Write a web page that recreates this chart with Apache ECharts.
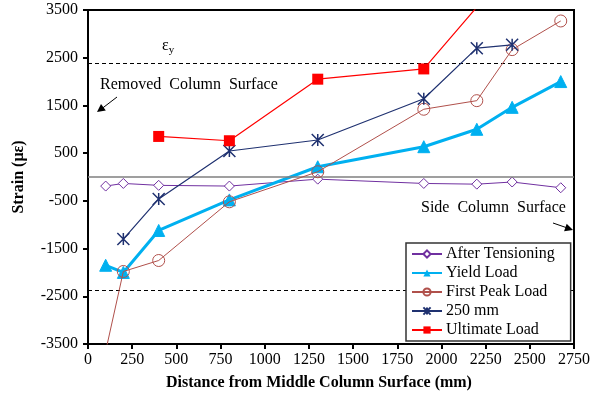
<!DOCTYPE html>
<html>
<head>
<meta charset="utf-8" />
<title>Strain distribution</title>
<style>
  html, body { margin: 0; padding: 0; background: #fff; }
  #chart { width: 595px; height: 403px; }
</style>
</head>
<body>
<div id="chart"></div>
<script src="https://cdn.jsdelivr.net/npm/echarts@6/dist/echarts.min.js"></script>
<script>
// distance from middle column surface (mm)
var afterX = [100, 200, 400, 800, 1300, 1900, 2200, 2400, 2675];
var afterY = [-190, -135, -175, -190, -45, -135, -150, -105, -225];
var yieldX = [100, 200, 400, 800, 1300, 1900, 2200, 2400, 2675];
var yieldY = [-1850, -2000, -1120, -480, 215, 635, 1000, 1460, 2000];
var peakX = [100, 200, 400, 800, 1300, 1900, 2200, 2400, 2675];
var peakY = [-3650, -1980, -1750, -520, 110, 1420, 1600, 2670, 3270];
var mm250X = [200, 400, 800, 1300, 1900, 2200, 2400];
var mm250Y = [-1300, -460, 545, 775, 1640, 2700, 2770];
var ultX = [400, 800, 1300, 1900, 2200];
var ultY = [850, 760, 2050, 2265, 3560];
var yieldStrain = 2380;

var font = "'Liberation Serif', 'Times New Roman', serif";

function pairs(xs, ys) {
  var out = [];
  for (var i = 0; i < xs.length; i++) out.push([xs[i], ys[i]]);
  return out;
}
function plain(v) { return String(v); }

var chart = echarts.init(document.getElementById('chart'));
var option = {
  animation: false,
  textStyle: { fontFamily: font },
  grid: {
    left: 88, right: 21, top: 10, bottom: 59,
    show: true, borderColor: '#000', borderWidth: 2
  },
  xAxis: {
    type: 'value', min: 0, max: 2750, interval: 250,
    name: 'Distance from Middle Column Surface (mm)',
    nameLocation: 'middle', nameGap: 31,
    nameTextStyle: { fontFamily: font, fontSize: 16, fontWeight: 'bold', color: '#000', padding: [0, 24, 0, 0] },
    axisLine: { onZero: false, lineStyle: { color: '#000', width: 2 } },
    axisTick: { show: true, length: 5, lineStyle: { color: '#000', width: 2 } },
    axisLabel: { fontFamily: font, fontSize: 16, color: '#000', margin: 8, formatter: plain },
    splitLine: { show: false }
  },
  yAxis: {
    type: 'value', min: -3500, max: 3500, interval: 1000,
    name: 'Strain (\u03bc\u03b5)',
    nameLocation: 'middle', nameGap: 61,
    nameTextStyle: { fontFamily: font, fontSize: 16, fontWeight: 'bold', color: '#000' },
    axisLine: { lineStyle: { color: '#000', width: 2 } },
    axisTick: { show: true, length: 5, lineStyle: { color: '#000', width: 2 } },
    axisLabel: { fontFamily: font, fontSize: 16, color: '#000', margin: 10, formatter: plain },
    splitLine: { show: false }
  },
  legend: {
    orient: 'vertical', left: 406, top: 243, z: 20,
    backgroundColor: '#fff', borderColor: '#333', borderWidth: 1.5, borderRadius: 0,
    padding: [3, 16, 3, 5],
    itemWidth: 30, itemHeight: 9, itemGap: 3,
    textStyle: { fontFamily: font, fontSize: 16, lineHeight: 16, color: '#000', padding: [0, 0, 0, -1] },
    data: ['After Tensioning', 'Yield Load', 'First Peak Load', '250 mm', 'Ultimate Load']
  },
  series: [
    {
      name: 'After Tensioning', type: 'line', data: pairs(afterX, afterY),
      symbol: 'diamond', symbolSize: 10, z: 3,
      lineStyle: { color: '#7030A0', width: 1 },
      itemStyle: { color: '#fff', borderColor: '#7030A0', borderWidth: 1 },
      markLine: {
        silent: true, symbol: 'none', label: { show: false },
        data: [
          { yAxis: 0, lineStyle: { color: '#7f7f7f', width: 1.5, type: 'solid' } },
          { yAxis: yieldStrain, lineStyle: { color: '#000', width: 1, type: [4, 3] } },
          { yAxis: -yieldStrain, lineStyle: { color: '#000', width: 1, type: [4, 3] } }
        ]
      }
    },
    {
      name: 'Yield Load', type: 'line', data: pairs(yieldX, yieldY),
      symbol: 'triangle', symbolSize: 12, z: 4,
      lineStyle: { color: '#00B0F0', width: 3 },
      itemStyle: { color: '#00B0F0', borderColor: '#00B0F0' }
    },
    {
      name: 'First Peak Load', type: 'line', data: pairs(peakX, peakY),
      symbol: 'circle', symbolSize: 12, z: 5,
      lineStyle: { color: '#B0504B', width: 1 },
      itemStyle: { color: 'rgba(255,255,255,0)', borderColor: '#B0504B', borderWidth: 1 }
    },
    {
      name: '250 mm', type: 'line', data: pairs(mm250X, mm250Y),
      symbol: 'path://M0,0L10,10M10,0L0,10M5,0L5,10', symbolSize: 12, z: 6,
      lineStyle: { color: '#1F3170', width: 1.2 },
      itemStyle: { color: 'none', borderColor: '#1F3170', borderWidth: 1.5 }
    },
    {
      name: 'Ultimate Load', type: 'line', data: pairs(ultX, ultY),
      symbol: 'rect', symbolSize: 11, z: 7,
      lineStyle: { color: '#FF0000', width: 1.2 },
      itemStyle: { color: '#FF0000' }
    }
  ],
  graphic: [
    { type: 'text', left: 162, top: 38,
      style: { text: '{a|\u03b5}{b|y}', rich: {
        a: { fontFamily: font, fontSize: 16, fill: '#000' },
        b: { fontFamily: font, fontSize: 11, fill: '#000', padding: [8, 0, 0, 0] }
      } } },
    { type: 'text', left: 100, top: 77,
      style: { text: 'Removed  Column  Surface', fontFamily: font, fontSize: 16, fill: '#000' } },
    { type: 'line', shape: { x1: 117, y1: 97, x2: 102, y2: 108.5 }, style: { stroke: '#000', lineWidth: 1 } },
    { type: 'polygon', shape: { points: [[97, 112], [105.8, 110.4], [101, 104]] }, style: { fill: '#000' } },
    { type: 'text', left: 421, top: 200,
      style: { text: 'Side  Column  Surface', fontFamily: font, fontSize: 16, fill: '#000' } },
    { type: 'line', shape: { x1: 553, y1: 223, x2: 566, y2: 227.5 }, style: { stroke: '#000', lineWidth: 1 } },
    { type: 'polygon', shape: { points: [[573, 230], [564.1, 231.3], [566.7, 223.7]] }, style: { fill: '#000' } }
  ]
};
chart.setOption(option);
</script>
</body>
</html>
